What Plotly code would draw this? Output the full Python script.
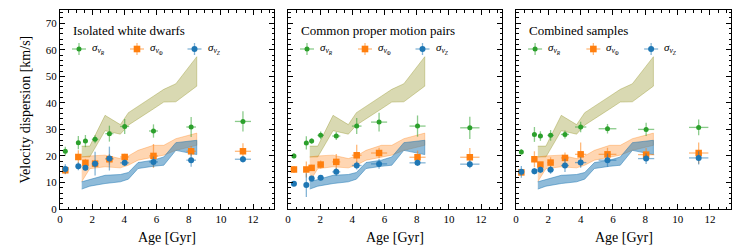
import plotly.graph_objects as go

# ---------------- data ----------------
panel_titles = ["Isolated white dwarfs", "Common proper motion pairs", "Combined samples"]

# Isolated white dwarfs
iso_age = [0.33, 1.14, 1.58, 2.18, 3.07, 4.02, 5.81, 8.15, 11.37]
iso_age_err = [0.1, 0.12, 0.15, 0.2, 0.25, 0.28, 0.28, 0.3, 0.5]
iso_R = [21.75, 25.0, 25.6, 26.25, 28.4, 31.1, 29.4, 30.9, 33.0]
iso_R_err = [1.7, 2.5, 2.3, 1.5, 3.0, 2.8, 2.5, 3.8, 3.8]
iso_phi = [14.6, 19.6, 17.4, 17.1, 18.75, 19.6, 20.0, 21.75, 21.75]
iso_phi_err = [1.5, 2.5, 1.5, 1.5, 2.0, 1.2, 4.5, 2.0, 3.0]
iso_Z = [15.1, 16.1, 15.5, 17.1, 19.0, 17.4, 17.75, 18.4, 18.75]
iso_Z_err = [1.8, 1.5, 1.0, 4.5, 4.5, 1.2, 2.0, 2.5, 1.2]

# Common proper motion pairs
cpm_age = [0.37, 1.14, 1.47, 2.03, 3.0, 4.27, 5.66, 8.05, 11.3]
cpm_age_err = [0.1, 0.12, 0.15, 0.2, 0.25, 0.3, 0.5, 0.5, 0.6]
cpm_R = [20.0, 24.9, 25.6, 27.75, 27.5, 31.25, 32.75, 31.25, 30.6]
cpm_R_err = [1.0, 2.5, 1.0, 1.5, 1.5, 3.0, 3.5, 4.0, 4.2]
cpm_phi = [14.9, 14.9, 15.5, 16.75, 17.75, 20.25, 21.1, 19.5, 19.5]
cpm_phi_err = [1.3, 3.0, 1.2, 1.5, 3.0, 4.0, 2.0, 2.5, 3.5]
cpm_Z = [9.5, 9.0, 11.5, 11.75, 14.0, 16.4, 17.0, 17.4, 16.9]
cpm_Z_err = [0.5, 4.5, 1.0, 1.0, 1.5, 1.5, 1.8, 1.2, 1.5]

# Combined samples
comb_age = [0.33, 1.14, 1.51, 2.14, 3.03, 4.0, 5.66, 8.05, 11.3]
comb_age_err = [0.1, 0.12, 0.15, 0.2, 0.25, 0.35, 0.55, 0.5, 0.6]
comb_R = [21.5, 28.1, 27.5, 27.75, 28.1, 30.9, 30.25, 30.0, 30.75]
comb_R_err = [1.0, 2.8, 1.8, 2.0, 1.5, 2.0, 1.8, 2.5, 3.0]
comb_phi = [13.8, 18.75, 16.75, 17.5, 19.25, 20.6, 20.6, 20.5, 21.1]
comb_phi_err = [1.0, 3.0, 1.0, 2.0, 2.0, 4.5, 2.5, 2.5, 4.0]
comb_Z = [14.0, 14.25, 14.75, 14.75, 16.4, 17.5, 18.4, 19.0, 19.25]
comb_Z_err = [2.2, 1.2, 1.2, 1.5, 2.5, 2.0, 2.5, 2.0, 2.5]

# Model bands (same in every panel)
band_age = [1.35, 1.85, 2.8, 3.75, 4.25, 4.85, 5.8, 6.45, 7.2, 8.5]
band_R_lo = [19.6, 19.6, 29.5, 28.2, 31.6, 34.1, 37.7, 40.3, 40.4, 46.3]
band_R_hi = [23.7, 23.7, 35.3, 31.8, 36.3, 38.6, 42.5, 45.1, 47.2, 57.4]
band_phi_lo = [10.3, 15.2, 15.9, 15.5, 16.5, 18.4, 19.6, 20.3, 22.1, 24.0]
band_phi_hi = [19.6, 20.0, 20.3, 19.0, 20.0, 22.1, 24.0, 24.0, 26.5, 28.6]
band_Z_lo = [7.5, 8.6, 9.6, 10.25, 11.25, 15.25, 16.1, 16.5, 22.1, 20.5]
band_Z_hi = [10.25, 11.1, 12.7, 13.0, 13.75, 17.5, 18.4, 19.6, 25.0, 25.9]

x_ticks = [0, 2, 4, 6, 8, 10, 12]
y_ticks = [0, 10, 20, 30, 40, 50, 60, 70]
x_title = "Age [Gyr]"
y_title = "Velocity dispersion [km/s]"

# ---------------- styling ----------------
FONT = "Liberation Serif, DejaVu Serif, serif"
C_R = "#2ca02c"
C_P = "#ff7f0e"
C_Z = "#1f77b4"
E_R = "rgba(44,160,44,0.55)"
E_P = "rgba(255,127,14,0.55)"
E_Z = "rgba(31,119,180,0.55)"

W, H = 747, 249
L, R, T, B = 60, 16, 10, 40
pw = W - L - R
d1 = 214 / pw
d2a, d2b = 228 / pw, 442 / pw
d3a = 456 / pw
domains = [[0, d1], [d2a, d2b], [d3a, 1.0]]

panels = [
    (iso_age, iso_age_err, iso_R, iso_R_err, iso_phi, iso_phi_err, iso_Z, iso_Z_err),
    (cpm_age, cpm_age_err, cpm_R, cpm_R_err, cpm_phi, cpm_phi_err, cpm_Z, cpm_Z_err),
    (comb_age, comb_age_err, comb_R, comb_R_err, comb_phi, comb_phi_err, comb_Z, comb_Z_err),
]

fig = go.Figure()


def band(xs, lo, hi, fill, line, xa, ya):
    return go.Scatter(
        x=list(xs) + list(xs)[::-1],
        y=list(hi) + list(lo)[::-1],
        fill="toself", fillcolor=fill, mode="lines",
        line=dict(color=line, width=1),
        hoverinfo="skip", showlegend=False, xaxis=xa, yaxis=ya,
    )


def pts(x, xe, y, ye, color, ecolor, symbol, size, xa, ya):
    return go.Scatter(
        x=x, y=y, mode="markers",
        marker=dict(color=color, symbol=symbol, size=size, line=dict(width=0)),
        error_x=dict(type="data", array=xe, color=ecolor, thickness=1.3, width=0),
        error_y=dict(type="data", array=ye, color=ecolor, thickness=1.3, width=0),
        showlegend=False, xaxis=xa, yaxis=ya,
    )


for i, p in enumerate(panels):
    xa = "x" if i == 0 else f"x{i+1}"
    ya = "y" if i == 0 else f"y{i+1}"
    age, age_err, vR, vR_e, vP, vP_e, vZ, vZ_e = p
    fig.add_trace(band(band_age, band_R_lo, band_R_hi, "rgba(128,128,0,0.30)", "rgba(128,128,0,0.30)", xa, ya))
    fig.add_trace(band(band_age, band_phi_lo, band_phi_hi, "rgba(255,127,14,0.32)", "rgba(255,127,14,0.32)", xa, ya))
    fig.add_trace(band(band_age, band_Z_lo, band_Z_hi, "rgba(31,119,180,0.5)", "rgba(31,119,180,0.5)", xa, ya))
    fig.add_trace(pts(age, age_err, vR, vR_e, C_R, E_R, "circle", 5, xa, ya))
    fig.add_trace(pts(age, age_err, vP, vP_e, C_P, E_P, "square", 6.5, xa, ya))
    fig.add_trace(pts(age, age_err, vZ, vZ_e, C_Z, E_Z, "circle", 6, xa, ya))

axis_common = dict(
    showline=True, linecolor="black", linewidth=1, mirror="ticks",
    ticks="inside", ticklen=5, tickwidth=1, tickcolor="black",
    showgrid=False, zeroline=False, automargin=False,
    tickfont=dict(family=FONT, size=11, color="black"),
)

layout = dict(
    width=W, height=H,
    margin=dict(l=L, r=R, t=T, b=B, autoexpand=False),
    paper_bgcolor="white", plot_bgcolor="white",
    font=dict(family=FONT, color="black"),
    showlegend=False,
)
for i in range(3):
    xk = "xaxis" if i == 0 else f"xaxis{i+1}"
    yk = "yaxis" if i == 0 else f"yaxis{i+1}"
    xa_anchor = "y" if i == 0 else f"y{i+1}"
    ya_anchor = "x" if i == 0 else f"x{i+1}"
    layout[xk] = dict(
        axis_common, domain=domains[i], anchor=xa_anchor, range=[0, 13.3],
        tickvals=x_ticks, ticktext=[str(v) for v in x_ticks],
        minor=dict(ticks="inside", dtick=0.5, ticklen=2.5, tickcolor="black", tickwidth=0.8),
    )
    layout[yk] = dict(
        axis_common, domain=[0, 1], anchor=ya_anchor, range=[0, 75],
        tickvals=y_ticks, ticktext=[str(v) for v in y_ticks],
        showticklabels=(i == 0),
        minor=dict(ticks="inside", dtick=2, ticklen=2.5, tickcolor="black", tickwidth=0.8),
    )
fig.update_layout(**layout)

# panel titles, axis titles and legends
leg_labels = [
    "<i>σ</i><sub><i>v</i><sub><i>R</i></sub></sub>",
    "<i>σ</i><sub><i>v</i><sub>Φ</sub></sub>",
    "<i>σ</i><sub><i>v</i><sub><i>Z</i></sub></sub>",
]
leg_colors = [(C_R, E_R, "circle", 2.5), (C_P, E_P, "square", 3.3), (C_Z, E_Z, "circle", 3.0)]
leg_x = [19 / 214, 77 / 214, 134.5 / 214]
leg_y = 1 - 39 / 199

fig.add_annotation(
    text=y_title, xref="x domain", yref="y domain", x=0, y=0.5, xshift=-35,
    xanchor="center", yanchor="middle", textangle=-90, showarrow=False,
    font=dict(family=FONT, size=14, color="black"),
)

for i in range(3):
    xd = "x domain" if i == 0 else f"x{i+1} domain"
    yd = "y domain" if i == 0 else f"y{i+1} domain"
    fig.add_annotation(
        text=x_title, xref=xd, yref=yd, x=0.5, y=0, yshift=-28,
        xanchor="center", yanchor="middle", showarrow=False,
        font=dict(family=FONT, size=14, color="black"),
    )
    fig.add_annotation(
        text=panel_titles[i], xref=xd, yref=yd, x=10.5 / 214, y=1 - 20 / 199,
        xanchor="left", yanchor="middle", showarrow=False,
        font=dict(family=FONT, size=13, color="black"),
    )
    for j in range(3):
        col, ecol, sym, r = leg_colors[j]
        cx = leg_x[j]
        fig.add_shape(type="line", xref=xd, yref=yd, xsizemode="pixel", ysizemode="pixel",
                      xanchor=cx, yanchor=leg_y, x0=-7, x1=7, y0=0, y1=0,
                      line=dict(color=ecol, width=1.3))
        fig.add_shape(type="line", xref=xd, yref=yd, xsizemode="pixel", ysizemode="pixel",
                      xanchor=cx, yanchor=leg_y, x0=0, x1=0, y0=-6, y1=6,
                      line=dict(color=ecol, width=1.3))
        fig.add_shape(type="circle" if sym == "circle" else "rect",
                      xref=xd, yref=yd, xsizemode="pixel", ysizemode="pixel",
                      xanchor=cx, yanchor=leg_y, x0=-r, x1=r, y0=-r, y1=r,
                      line=dict(width=0), fillcolor=col)
        fig.add_annotation(
            text=leg_labels[j], xref=xd, yref=yd, x=cx + 11 / 214, y=leg_y,
            xanchor="left", yanchor="middle", showarrow=False,
            font=dict(family=FONT, size=11, color="black"),
        )

fig.write_html("out.html", config={"displayModeBar": False},
               post_script="document.body.style.margin='0';")
